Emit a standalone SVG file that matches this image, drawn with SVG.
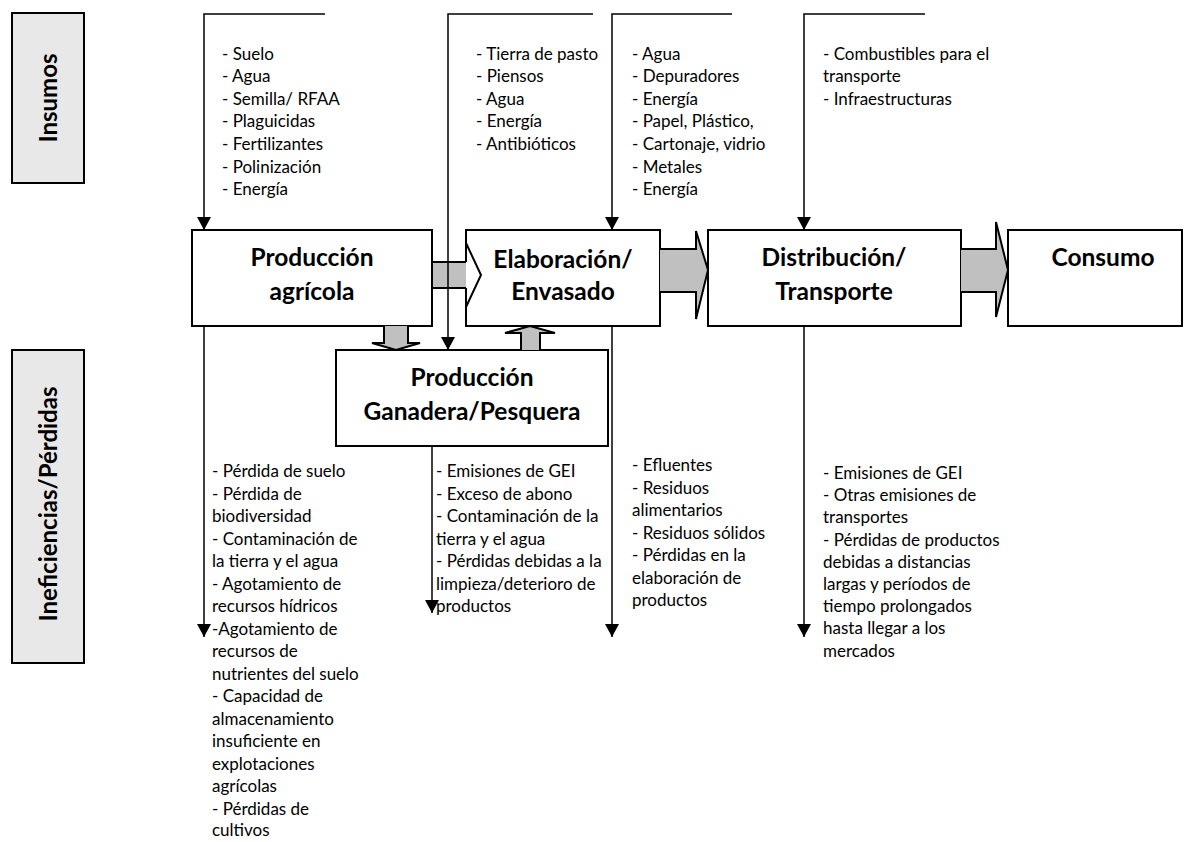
<svg xmlns="http://www.w3.org/2000/svg" width="1186" height="842" viewBox="0 0 1186 842">
<defs>
<style>
.box{fill:#fff;stroke:#000;stroke-width:2}
.side{fill:#e8e8e8;stroke:#000;stroke-width:2}
.ttl{font-family:Lato,"Liberation Sans",sans-serif;font-weight:bold;font-size:24.5px;fill:#000;text-anchor:middle}
.sidet{font-family:Lato,"Liberation Sans",sans-serif;font-weight:bold;font-size:24px;fill:#000;text-anchor:middle}
.t{font-family:Lato,"Liberation Sans",sans-serif;font-size:17px;fill:#000}
.ln{fill:none;stroke:#000;stroke-width:1.5}
.blk{fill:#c0c0c0;stroke:#000;stroke-width:2;stroke-linejoin:miter}
</style>
<marker id="ah" markerUnits="userSpaceOnUse" markerWidth="14" markerHeight="14" refX="13" refY="7" orient="auto">
<path d="M0,0 L13,7 L0,14 z" fill="#000"/>
</marker>
</defs>

<g id="label-insumos">
<rect class="side" x="12" y="13" width="72" height="170"/>
<text class="sidet" transform="translate(57,98) rotate(-90)">Insumos</text>
</g>
<g id="label-ineficiencias">
<rect class="side" x="12" y="350" width="72" height="313"/>
<text class="sidet" transform="translate(57,504) rotate(-90)">Ineficiencias/Pérdidas</text>
</g>

<g id="node-agricola">
<rect class="box" x="192" y="230" width="240" height="96"/>
<text class="ttl" x="312" y="266">Producción</text>
<text class="ttl" x="312" y="300">agrícola</text>
</g>
<g id="node-elaboracion">
<rect x="466" y="230" width="194" height="96" fill="#fff"/>
<path d="M466,243 V230 H660 V326 H466 V307" fill="none" stroke="#000" stroke-width="2"/>
<text class="ttl" x="563" y="268">Elaboración/</text>
<text class="ttl" x="563" y="300">Envasado</text>
</g>
<g id="node-distribucion">
<rect class="box" x="708" y="230" width="253" height="96"/>
<text class="ttl" x="834" y="266">Distribución/</text>
<text class="ttl" x="834" y="300">Transporte</text>
</g>
<g id="node-consumo">
<rect class="box" x="1008" y="230" width="174" height="96"/>
<text class="ttl" x="1103" y="266">Consumo</text>
</g>
<g id="node-ganadera">
<rect class="box" x="336" y="350" width="272" height="96"/>
<text class="ttl" x="472" y="386">Producción</text>
<text class="ttl" x="472" y="420">Ganadera/Pesquera</text>
</g>

<g id="connectors">
<path d="M432,262 H467 M432,288 H467" stroke="#000" stroke-width="2"/>
<rect x="433" y="263" width="34" height="24" fill="#c0c0c0"/>
<path d="M466,262 V243 L481,275 L466,307 V288" fill="#fff" stroke="#000" stroke-width="2"/>
<path class="blk" d="M660,249 H696 V231 L708,270 L696,319 V292 H660"/>
<path class="blk" d="M961,249 H996 V222 L1008,270 L996,317 V292 H961"/>
<path class="blk" d="M384,326 V343 H372 L396,350 L420,343 H408 V326"/>
<path class="blk" d="M521,350 V333 H505 L530,326 L555,333 H540 V350"/>

<path class="ln" d="M325,14 H204 V230" marker-end="url(#ah)"/>
<path class="ln" d="M593,14 H448 V350" marker-end="url(#ah)"/>
<path class="ln" d="M732,14 H612 V230" marker-end="url(#ah)"/>
<path class="ln" d="M925,14 H804 V230" marker-end="url(#ah)"/>

<path class="ln" d="M204,326 V637" marker-end="url(#ah)"/>
<path class="ln" d="M432,446 V613" marker-end="url(#ah)"/>
<path class="ln" d="M612,326 V637" marker-end="url(#ah)"/>
<path class="ln" d="M804,326 V637" marker-end="url(#ah)"/>
</g>

<g id="text-insumos-agricola" class="t">
<text x="222" y="59.5">- Suelo</text>
<text x="222" y="82.1">- Agua</text>
<text x="222" y="104.7">- Semilla/ RFAA</text>
<text x="222" y="127.3">- Plaguicidas</text>
<text x="222" y="149.9">- Fertilizantes</text>
<text x="222" y="172.5">- Polinización</text>
<text x="222" y="195.1">- Energía</text>
</g>
<g id="text-insumos-ganadera" class="t">
<text x="476" y="59.5">- Tierra de pasto</text>
<text x="476" y="82.1">- Piensos</text>
<text x="476" y="104.7">- Agua</text>
<text x="476" y="127.3">- Energía</text>
<text x="476" y="149.9">- Antibióticos</text>
</g>
<g id="text-insumos-elaboracion" class="t">
<text x="632" y="59.5">- Agua</text>
<text x="632" y="82.1">- Depuradores</text>
<text x="632" y="104.7">- Energía</text>
<text x="632" y="127.3">- Papel, Plástico,</text>
<text x="632" y="149.9">- Cartonaje, vidrio</text>
<text x="632" y="172.5">- Metales</text>
<text x="632" y="195.1">- Energía</text>
</g>
<g id="text-insumos-distribucion" class="t">
<text x="823" y="59.5">- Combustibles para el</text>
<text x="823" y="82.1">transporte</text>
<text x="823" y="104.7">- Infraestructuras</text>
</g>

<g id="text-perdidas-agricola" class="t">
<text x="212" y="477">- Pérdida de suelo</text>
<text x="212" y="499.5">- Pérdida de</text>
<text x="212" y="522">biodiversidad</text>
<text x="212" y="544.5">- Contaminación de</text>
<text x="212" y="567">la tierra y el agua</text>
<text x="212" y="589.5">- Agotamiento de</text>
<text x="212" y="612">recursos hídricos</text>
<text x="212" y="634.5">-Agotamiento de</text>
<text x="212" y="657">recursos de</text>
<text x="212" y="679.5">nutrientes del suelo</text>
<text x="212" y="702">- Capacidad de</text>
<text x="212" y="724.5">almacenamiento</text>
<text x="212" y="747">insuficiente en</text>
<text x="212" y="769.5">explotaciones</text>
<text x="212" y="792">agrícolas</text>
<text x="212" y="814.5">- Pérdidas de</text>
<text x="212" y="836">cultivos</text>
</g>
<g id="text-perdidas-ganadera" class="t">
<text x="436" y="477">- Emisiones de GEI</text>
<text x="436" y="499.5">- Exceso de abono</text>
<text x="436" y="522">- Contaminación de la</text>
<text x="436" y="544.5">tierra y el agua</text>
<text x="436" y="567">- Pérdidas debidas a la</text>
<text x="436" y="589.5">limpieza/deterioro de</text>
<text x="436" y="612">productos</text>
</g>
<g id="text-perdidas-elaboracion" class="t">
<text x="632" y="471">- Efluentes</text>
<text x="632" y="493.5">- Residuos</text>
<text x="632" y="516">alimentarios</text>
<text x="632" y="538.5">- Residuos sólidos</text>
<text x="632" y="561">- Pérdidas en la</text>
<text x="632" y="583.5">elaboración de</text>
<text x="632" y="606">productos</text>
</g>
<g id="text-perdidas-distribucion" class="t">
<text x="823" y="479">- Emisiones de GEI</text>
<text x="823" y="501.2">- Otras emisiones de</text>
<text x="823" y="523.4">transportes</text>
<text x="823" y="545.6">- Pérdidas de productos</text>
<text x="823" y="567.8">debidas a distancias</text>
<text x="823" y="590">largas y períodos de</text>
<text x="823" y="612.2">tiempo prolongados</text>
<text x="823" y="634.4">hasta llegar a los</text>
<text x="823" y="656.6">mercados</text>
</g>
</svg>
